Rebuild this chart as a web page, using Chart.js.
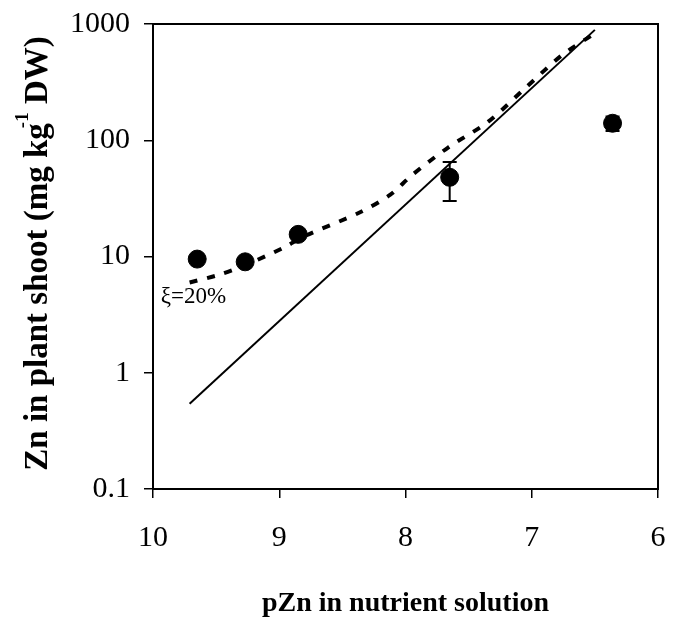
<!DOCTYPE html>
<html>
<head>
<meta charset="utf-8">
<script src="https://cdn.jsdelivr.net/npm/chart.js@4/dist/chart.umd.min.js"></script>
<style>
  html, body { margin: 0; padding: 0; background: #fff; }
  #wrap { width: 674px; height: 618px; }
</style>
</head>
<body>
<div id="wrap"><canvas id="chartZn" width="674" height="618"></canvas></div>
<script>
// Datos medidos (pZn, Zn en parte aérea)
const obsX = [9.65, 9.27, 8.85, 7.65, 6.36];
const obsY = [9.5, 9.0, 15.5, 48, 140];
const obsLow = [9.0, 8.5, 14.5, 30, 120];
const obsHigh = [9.9, 9.4, 16.5, 65, 160];

// Modelo (línea continua)
const modelX = [9.71, 6.50];
const modelY = [0.54, 890];

// Modelo xi = 20% (línea discontinua)
const xiX = [9.71, 9.47, 9.26, 8.96, 8.81, 8.36, 8.12, 7.95, 7.66, 7.35, 7.05, 6.76, 6.50];
const xiY = [5.97, 7.0, 8.5, 12, 14.8, 24, 34, 50, 87, 143, 282, 540, 830];

const xTicks = [10, 9, 8, 7, 6];
const yTicks = [0.1, 1, 10, 100, 1000];

const serif = "'Liberation Serif', 'Times New Roman', serif";

const pts = (xs, ys) => xs.map((x, i) => ({ x: x, y: ys[i] }));

// sin relleno automático por etiquetas: el área la fija layout.padding
const noPad = s => { s.paddingLeft = 0; s.paddingRight = 0; s.paddingTop = 0; s.paddingBottom = 0; };

// Caja, barras de error, títulos y etiqueta
const extras = {
    id: 'extras',
    afterDatasetsDraw(chart) {
        const { ctx, chartArea: a, scales: { x, y } } = chart;
        ctx.save();
        ctx.strokeStyle = '#000';
        ctx.lineWidth = 2;
        ctx.strokeRect(a.left, a.top, a.right - a.left, a.bottom - a.top);

        // barras de error
        ctx.lineWidth = 2;
        obsX.forEach((vx, i) => {
            const px = x.getPixelForValue(vx);
            const lo = y.getPixelForValue(obsLow[i]);
            const hi = y.getPixelForValue(obsHigh[i]);
            ctx.beginPath();
            ctx.moveTo(px, lo); ctx.lineTo(px, hi);
            ctx.moveTo(px - 7, lo); ctx.lineTo(px + 7, lo);
            ctx.moveTo(px - 7, hi); ctx.lineTo(px + 7, hi);
            ctx.stroke();
        });

        // etiqueta xi
        ctx.fillStyle = '#000';
        ctx.font = '23px ' + serif;
        ctx.textAlign = 'center';
        ctx.textBaseline = 'middle';
        ctx.fillText('ξ=20%', x.getPixelForValue(9.68), y.getPixelForValue(4.5));

        // título eje x
        ctx.font = 'bold 28px ' + serif;
        ctx.fillText('pZn in nutrient solution', (a.left + a.right) / 2, 604);

        // título eje y con superíndice
        ctx.translate(38, 251);
        ctx.rotate(-Math.PI / 2);
        const big = 'bold 33px ' + serif, small = 'bold 19px ' + serif;
        const p1 = 'Zn in plant shoot (mg kg', sup = '-1', p2 = ' DW)';
        ctx.font = big; const w1 = ctx.measureText(p1).width, w3 = ctx.measureText(p2).width;
        ctx.font = small; const w2 = ctx.measureText(sup).width;
        let sx = -(w1 + w2 + w3) / 2;
        ctx.textAlign = 'left';
        ctx.font = big; ctx.fillText(p1, sx, 0); sx += w1;
        ctx.font = small; ctx.fillText(sup, sx - 5, -15); sx += w2 - 5;
        ctx.font = big; ctx.fillText(p2, sx, 0);
        ctx.restore();
    }
};

new Chart(document.getElementById('chartZn'), {
    type: 'scatter',
    data: {
        datasets: [
            {
                data: pts(obsX, obsY),
                pointRadius: 9,
                pointBackgroundColor: '#000',
                pointBorderColor: '#000',
                showLine: false
            },
            {
                data: pts(modelX, modelY),
                showLine: true,
                borderColor: '#000',
                borderWidth: 2,
                pointRadius: 0
            },
            {
                data: pts(xiX, xiY),
                showLine: true,
                borderColor: '#000',
                borderWidth: 4,
                borderDash: [8, 10],
                tension: 0.3,
                pointRadius: 0
            }
        ]
    },
    options: {
        responsive: false,
        animation: false,
        layout: { padding: { left: 0, right: 16, top: 24, bottom: 0 } },
        plugins: { legend: { display: false }, tooltip: { enabled: false } },
        scales: {
            x: {
                type: 'linear', reverse: true, min: 6, max: 10,
                afterBuildTicks: s => { s.ticks = xTicks.map(v => ({ value: v })); },
                afterFit: s => { s.height = 129; noPad(s); },
                border: { display: true, color: '#000', width: 2 },
                grid: { drawOnChartArea: false, drawTicks: true, tickLength: 9, color: '#000', lineWidth: 1.5 },
                ticks: { color: '#000', font: { family: serif, size: 30 }, padding: 22, maxRotation: 0 }
            },
            y: {
                type: 'logarithmic', min: 0.1, max: 1000,
                afterBuildTicks: s => { s.ticks = yTicks.map(v => ({ value: v })); },
                afterFit: s => { s.width = 153; noPad(s); },
                border: { display: true, color: '#000', width: 2 },
                grid: { drawOnChartArea: false, drawTicks: true, tickLength: 9, color: '#000', lineWidth: 1.5 },
                ticks: { color: '#000', font: { family: serif, size: 30 }, padding: 14, callback: v => String(v) }
            }
        }
    },
    plugins: [extras]
});
</script>
</body>
</html>
